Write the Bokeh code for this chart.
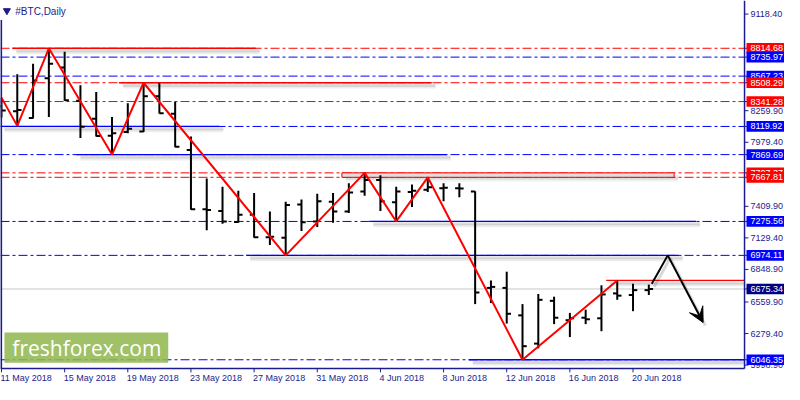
from bokeh.plotting import figure
from bokeh.models import Range1d, Arrow, VeeHead
from bokeh.embed import file_html
from bokeh.resources import INLINE
from bokeh.core.properties import value

# ---------------- data ----------------
date_ticks = [0, 4, 8, 12, 16, 20, 24, 28, 32, 36, 40]
date_labels = ["11 May 2018", "15 May 2018", "19 May 2018", "23 May 2018", "27 May 2018",
               "31 May 2018", "4 Jun 2018", "8 Jun 2018", "12 Jun 2018", "16 Jun 2018", "20 Jun 2018"]

days = list(range(42))
opens = [8300, 8255, 8195, 8549, 8644, 8348, 8189, 8037, 8070, 8074,
         8388, 8232, 7910, 7384, 7369, 7270, 7335, 7134, 7131, 7427,
         7275, 7450, 7364, 7542, 7643, 7447, 7537, 7557, 7571, 7570,
         7542, 6685, 6685, 6441, 6190, 6570, 6398, 6420, 6415, 6636,
         6622, 6665]
highs = [8376, 8583, 8678, 8814.68, 8784, 8486, 8425, 8204, 8325, 8508.29,
         8506, 8339, 8031, 7657, 7585, 7548, 7528, 7364, 7450, 7470,
         7522, 7528, 7614, 7707.37, 7686, 7585, 7605, 7667.81, 7614, 7614,
         7545, 6751, 6829, 6541, 6631, 6607, 6463, 6492, 6708, 6751,
         6722, 6714]
lows = [8200, 8125, 8190, 8204, 8348, 8017, 8031, 7869.69, 8060, 8070,
        8235, 7935, 7380, 7197, 7255, 7265, 7130, 7067, 6974.11, 7191,
        7226, 7263, 7350, 7505, 7369, 7275.56, 7404, 7537, 7456, 7490,
        6541, 6550, 6368, 6046.35, 6147, 6363, 6248, 6363, 6300, 6579,
        6478, 6622]
closes = [8262, 8265, 8529, 8678, 8353, 8117, 8035, 8060, 8100, 8388,
          8238, 7939, 7384, 7378, 7274, 7335, 7134, 7140, 7421, 7269,
          7456, 7364, 7533, 7643, 7456, 7542, 7548, 7580, 7575, 7568,
          6644, 6694, 6455, 6167, 6579, 6420, 6415, 6406, 6627, 6616,
          6665, 6675.34]

zz_days = [0, 1, 3, 7, 9, 18, 23, 25, 27, 33, 39]
zz_vals = [8376, 8125, 8814.68, 7869.69, 8508.29, 6974.11, 7707.37, 7275.56, 7667.81, 6046.35, 6751]

level_vals = [8814.68, 8735.97, 8567.23, 8508.29, 8341.28, 8119.92, 7869.69,
              7707.37, 7667.81, 7275.56, 6974.11, 6046.35]
level_colors = ["red", "blue", "blue", "red", "red", "blue", "blue",
                "red", "red", "blue", "blue", "blue"]

trend_vals = [8814.68, 8508.29, 8119.92, 7869.69, 7275.56, 6974.11, 6751, 6046.35]
trend_start = [0.69, 7.44, -0.06, 4.75, 23.3, 15.5, 38.3, 29.6]
trend_end = [16.1, 27.25, 13.8, 28.2, 44.0, 42.9, 47.06, 47.06]
trend_colors = ["red", "red", "blue", "blue", "blue", "blue", "red", "blue"]

zone_low, zone_high = 7667.81, 7707.37
zone_start, zone_end = 21.56, 42.6

arrow_days = [41.19, 42.2, 44.44]
arrow_vals = [6722, 6974.11, 6377]

bid_price = 6675.34
axis_ticks = [9118.40, 8259.90, 7979.40, 7409.90, 7129.40, 6848.90, 6559.90, 6279.40, 5998.90]

# -------- reference pixel -> data helpers (layout of decorations) --------
def rx(px):
    return (px - 4) / 16.0

def ry(py):
    return 9118.4 - (py - 14) * 8.629

PX = 8.629  # value per reference pixel (vertical)
NAVY = "#1c1c8c"
RED = "#ff0000"
BLUE = "#0000ff"
cmap = {"red": RED, "blue": BLUE, "navy": "#000080"}

X_L, X_R = rx(3), rx(757)      # chart area
Y_B, Y_T = ry(379), ry(0)

p = figure(width=784, height=384, output_backend="svg", toolbar_location=None,
           x_range=Range1d(rx(3), rx(797.5)), y_range=Range1d(ry(395.5), ry(0)),
           min_border=0)
p.grid.visible = False
p.axis.visible = False
p.outline_line_color = None
p.background_fill_color = "white"

# full-width level lines (dash-dot) and bid line
p.segment(x0=[X_L] * len(level_vals), x1=[X_R] * len(level_vals), y0=level_vals, y1=level_vals,
          line_color=[cmap[c] for c in level_colors], line_width=1, line_dash="9 3 3 3")
p.segment(x0=[X_L], x1=[X_R], y0=[bid_price], y1=[bid_price], line_color="#c8c8c8", line_width=1)

# shadows of trend segments and zone
for off, alpha in ((2.5, 0.13), (4.5, 0.07)):
    p.segment(x0=[s + 0.25 for s in trend_start], x1=[min(e + 0.25, X_R) for e in trend_end],
              y0=[v - off * PX for v in trend_vals], y1=[v - off * PX for v in trend_vals],
              line_color="black", line_alpha=alpha, line_width=3)
    p.quad(left=[zone_start + 0.25], right=[zone_end + 0.25],
           bottom=[zone_low - off * PX], top=[zone_high - off * PX],
           fill_color="black", fill_alpha=alpha * 0.7, line_color=None)

# zone rectangle
p.quad(left=[zone_start], right=[zone_end], bottom=[zone_low], top=[zone_high],
       fill_color="#dedede", line_color=RED, line_width=1)

# solid trend segments
p.segment(x0=trend_start, x1=trend_end, y0=trend_vals, y1=trend_vals,
          line_color=[cmap[c] for c in trend_colors], line_width=1.3)

# logo
p.quad(left=[rx(7)], right=[rx(173)], bottom=[ry(373)], top=[ry(342)],
       fill_color="#93b852", fill_alpha=0.88, line_color=None)
p.text(x=[rx(15)], y=[ry(358)], text=["freshforex.com"], text_font=value("Open Sans"),
       text_font_size="21px", text_color="white", text_baseline="middle")

# OHLC bars
tk = 0.27
p.segment(x0=days, x1=days, y0=lows, y1=highs, line_color="black", line_width=2)
p.segment(x0=[d - tk for d in days], x1=days, y0=opens, y1=opens, line_color="black", line_width=2)
p.segment(x0=days, x1=[d + tk for d in days], y0=closes, y1=closes, line_color="black", line_width=2)

# zigzag
p.line(zz_days, zz_vals, line_color=RED, line_width=2)

# forecast arrow (shadow + arrow)
p.line([d + 0.15 for d in arrow_days], [v - 3 * PX for v in arrow_vals],
       line_color="black", line_alpha=0.15, line_width=3)
p.line(arrow_days[:2], arrow_vals[:2], line_color="black", line_width=2)
p.add_layout(Arrow(end=VeeHead(size=15, fill_color="black", line_color="black"),
                   x_start=arrow_days[1], y_start=arrow_vals[1],
                   x_end=arrow_days[2], y_end=arrow_vals[2],
                   line_color="black", line_width=2))

# frame: left edge, right axis line, bottom axis line
p.segment(x0=[X_L + 0.04], y0=[ry(20)], x1=[X_L + 0.04], y1=[Y_B], line_color=NAVY, line_width=2)
p.segment(x0=[X_R], y0=[Y_T], x1=[X_R], y1=[Y_B], line_color=NAVY, line_width=1.5)
p.segment(x0=[X_L], y0=[Y_B], x1=[X_R], y1=[Y_B], line_color=NAVY, line_width=1.5)

# right axis ticks and labels
all_ticks = axis_ticks + level_vals + [bid_price]
p.segment(x0=[X_R] * len(all_ticks), x1=[rx(761)] * len(all_ticks), y0=all_ticks, y1=all_ticks,
          line_color=NAVY, line_width=1)
p.text(x=[rx(763)] * len(axis_ticks), y=axis_ticks, text=["%.2f" % v for v in axis_ticks],
       text_font=value("Liberation Sans"), text_font_size="9px", text_color=NAVY,
       text_baseline="middle", text_align="left")

# coloured price boxes
box_vals = level_vals + [bid_price]
box_cols = [cmap[c] for c in level_colors] + [cmap["navy"]]
for v, c in zip(box_vals, box_cols):
    p.quad(left=[rx(759)], right=[rx(800)], bottom=[v - 5.5 * PX], top=[v + 5.5 * PX],
           fill_color=c, line_color=None)
    p.text(x=[rx(763)], y=[v], text=["%.2f" % v], text_font=value("Liberation Sans"),
           text_font_size="9px", text_color="white", text_baseline="middle", text_align="left")

# bottom axis ticks and date labels
p.segment(x0=date_ticks, x1=date_ticks, y0=[Y_B] * len(date_ticks), y1=[ry(383)] * len(date_ticks),
          line_color=NAVY, line_width=1)
p.text(x=date_ticks, y=[ry(384)] * len(date_ticks), text=date_labels, x_offset=-1,
       text_font=value("Liberation Sans"), text_font_size="9px", text_color=NAVY,
       text_baseline="top", text_align="left")

# title
p.scatter([rx(9.5)], [ry(10.5)], marker="inverted_triangle", size=7, color=NAVY)
p.text(x=[rx(18)], y=[ry(11)], text=["#BTC,Daily"], text_font=value("Liberation Sans"),
       text_font_size="10px", text_color=NAVY, text_baseline="middle", text_align="left")

open("out.html", "w").write(file_html(p, INLINE))
